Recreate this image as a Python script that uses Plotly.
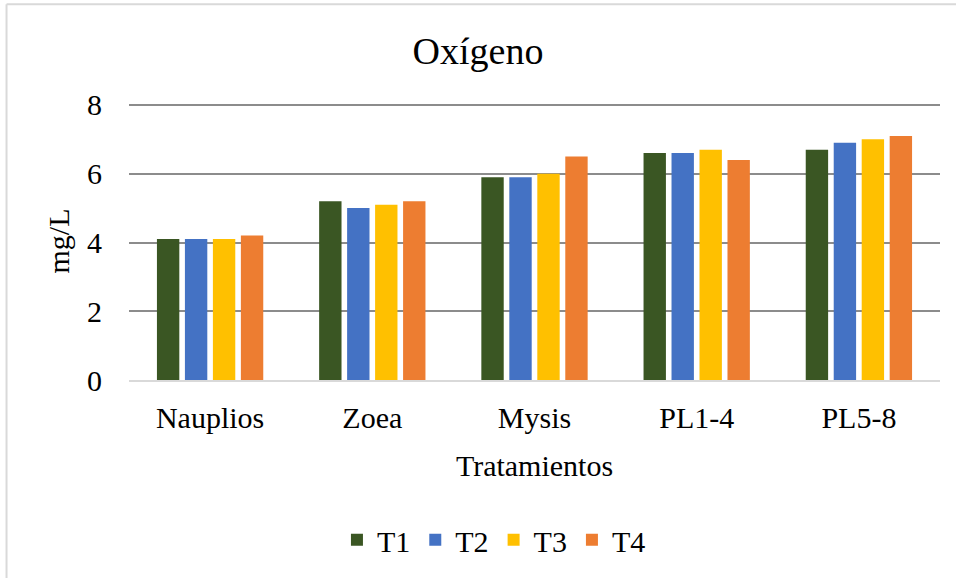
import plotly.graph_objects as go

categories = ["Nauplios", "Zoea", "Mysis", "PL1-4", "PL5-8"]
series_names = ["T1", "T2", "T3", "T4"]
t1 = [4.1, 5.2, 5.9, 6.6, 6.7]
t2 = [4.1, 5.0, 5.9, 6.6, 6.9]
t3 = [4.1, 5.1, 6.0, 6.7, 7.0]
t4 = [4.2, 5.2, 6.5, 6.4, 7.1]
colors = ["#3a5623", "#4472c4", "#ffc000", "#ed7d31"]
y_ticks = [0, 2, 4, 6, 8]

fig = go.Figure()
for name, vals, c in zip(series_names, [t1, t2, t3, t4], colors):
    fig.add_trace(go.Bar(x=categories, y=vals, name=name, marker_color=c,
                         marker_line_width=0))

font = "Liberation Serif"
fig.update_layout(
    width=956, height=578,
    margin=dict(l=129, r=16, t=102, b=196),
    paper_bgcolor="white", plot_bgcolor="white",
    font=dict(family=font, size=30, color="black"),
    title=dict(text="Oxígeno", x=0.5, xanchor="center", y=0.912, yanchor="middle",
               font=dict(size=38, family=font)),
    barmode="group", bargap=0.31, bargroupgap=0.2,
    showlegend=True,
    legend=dict(orientation="h", x=0.45, xanchor="center", y=-0.575, yanchor="middle",
                font=dict(size=30, family=font), itemwidth=30, traceorder="normal"),
    xaxis=dict(showgrid=False, showline=True, linecolor="#d9d9d9", linewidth=2,
               ticks="", tickfont=dict(size=30), ticklabelstandoff=10,
               title=dict(text="Tratamientos", standoff=22, font=dict(size=30))),
    yaxis=dict(range=[0, 8.087], tickvals=y_ticks, showgrid=True, gridcolor="#8c8c8c",
               gridwidth=2, zeroline=False, showline=False, ticks="",
               tickfont=dict(size=30), ticklabelstandoff=26,
               title=dict(text="mg/L", standoff=8, font=dict(size=30))),
)
fig.add_shape(type="line", xref="paper", yref="paper", x0=-0.151, x1=-0.151, y0=-0.72, y1=1.352,
              line=dict(color="#d9d9d9", width=2))
fig.add_shape(type="line", xref="paper", yref="paper", x0=-0.151, x1=1.03, y0=1.352, y1=1.352,
              line=dict(color="#d9d9d9", width=2))
fig.write_html("out.html", post_script="document.body.style.margin='0';",
               config={"displayModeBar": False})
